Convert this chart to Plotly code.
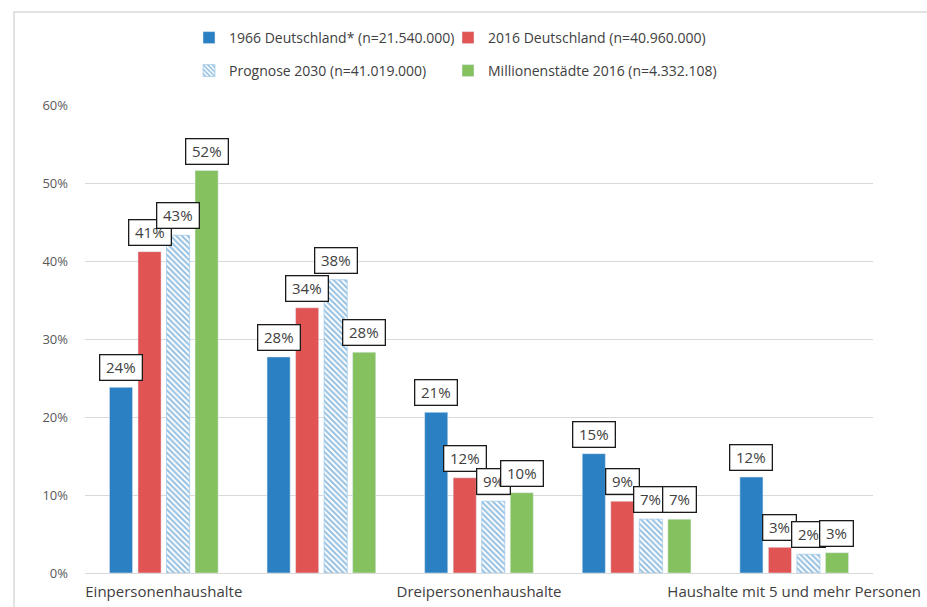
import plotly.graph_objects as go

# Household size categories (x axis) and the share of households per series, in percent
categories = [
    "Einpersonenhaushalte",
    "Zweipersonenhaushalte",
    "Dreipersonenhaushalte",
    "Vierpersonenhaushalte",
    "Haushalte mit 5 und mehr Personen",
]
series_names = [
    "1966 Deutschland* (n=21.540.000)",
    "2016 Deutschland (n=40.960.000)",
    "Prognose 2030 (n=41.019.000)",
    "Millionenstädte 2016 (n=4.332.108)",
]
de_1966 = [23.8, 27.7, 20.6, 15.3, 12.3]
de_2016 = [41.2, 34.0, 12.2, 9.2, 3.3]
prognose_2030 = [43.3, 37.6, 9.2, 6.9, 2.4]
millionen_2016 = [51.6, 28.3, 10.3, 6.9, 2.6]
y_ticks = [0, 10, 20, 30, 40, 50, 60]

series_values = [de_1966, de_2016, prognose_2030, millionen_2016]

BLUE = "#2a80c2"
RED = "#e05454"
GREEN = "#86c160"
FONT = "Open Sans"
TEXT = "#404040"

BARGAP = 0.276
BARGROUPGAP = 0.19
n_series = len(series_values)
slot = (1 - BARGAP) / n_series

x_idx = list(range(len(categories)))

fig = go.Figure()

styles = [
    dict(color=BLUE),
    dict(color=RED),
    dict(color="white",
         pattern=dict(shape="\\", fgcolor=BLUE, bgcolor="white", size=4, solidity=0.5),
         line=dict(color="#9cc7e8", width=0.7)),
    dict(color=GREEN),
]
# one legend per entry: two rows of two columns above the plot
legend_ids = ["legend", "legend2", "legend3", "legend4"]
legend_pos = [(189, 38), (448, 38), (189, 71), (448, 71)]

for name, vals, marker, lg in zip(series_names, series_values, styles, legend_ids):
    fig.add_trace(go.Bar(
        x=x_idx, y=vals, name=name, marker=marker, legend=lg,
        hovertemplate="%{y:.1f}%<extra>" + name + "</extra>",
    ))

# Boxed value labels above every bar
annotations = []
for k, vals in enumerate(series_values):
    offset = (k - (n_series - 1) / 2) * slot
    for i, v in enumerate(vals):
        label = f"{v:.0f}%"
        annotations.append(dict(
            x=i + offset, y=v, xref="x", yref="y",
            text=label, showarrow=False,
            yanchor="bottom", yshift=6,
            width=8.5 * (len(label) - 1) + 20,
            bgcolor="white", bordercolor="#1a1a1a", borderwidth=1.3, borderpad=2,
            font=dict(family=FONT, size=15, color=TEXT),
        ))

W, H = 927, 607
ML, MR, MT, MB = 85, 54, 105, 34
pw, ph = W - ML - MR, H - MT - MB

legends = {}
for lg, (px, py) in zip(legend_ids, legend_pos):
    legends[lg] = dict(
        orientation="h", x=(px - ML) / pw, y=(H - MB - py) / ph,
        xanchor="left", yanchor="middle",
        font=dict(family=FONT, size=14, color=TEXT),
        bgcolor="rgba(0,0,0,0)", itemclick=False, itemdoubleclick=False,
    )

fig.update_layout(
    width=W, height=H,
    margin=dict(l=ML, r=MR, t=MT, b=MB, autoexpand=False),
    paper_bgcolor="white", plot_bgcolor="white",
    barmode="group", bargap=BARGAP, bargroupgap=BARGROUPGAP,
    font=dict(family=FONT, color=TEXT),
    annotations=annotations,
    showlegend=True,
    shapes=[dict(type="rect", xref="paper", yref="paper",
                 x0=(14 - ML) / pw, x1=1.3, y0=-0.3, y1=(H - MB - 12) / ph,
                 line=dict(color="#d9d9d9", width=1.5), layer="below")],
    **legends,
)

fig.update_xaxes(
    range=[-0.5, len(categories) - 0.5], automargin=False,
    tickvals=x_idx[::2], ticktext=categories[::2],
    showgrid=False, zeroline=False, showline=False, ticks="",
    ticklabelstandoff=8,
    tickfont=dict(family=FONT, size=15, color=TEXT),
)
fig.update_yaxes(
    range=[0, 60], tickvals=y_ticks, ticktext=[f"{t}%" for t in y_ticks],
    automargin=False,
    showgrid=True, gridcolor="#d9d9d9", gridwidth=1,
    zeroline=True, zerolinecolor="#d9d9d9", zerolinewidth=1,
    showline=False, ticks="", ticklabelstandoff=16,
    tickfont=dict(family=FONT, size=13, color="#595959"),
)

fig.write_html("out.html")
